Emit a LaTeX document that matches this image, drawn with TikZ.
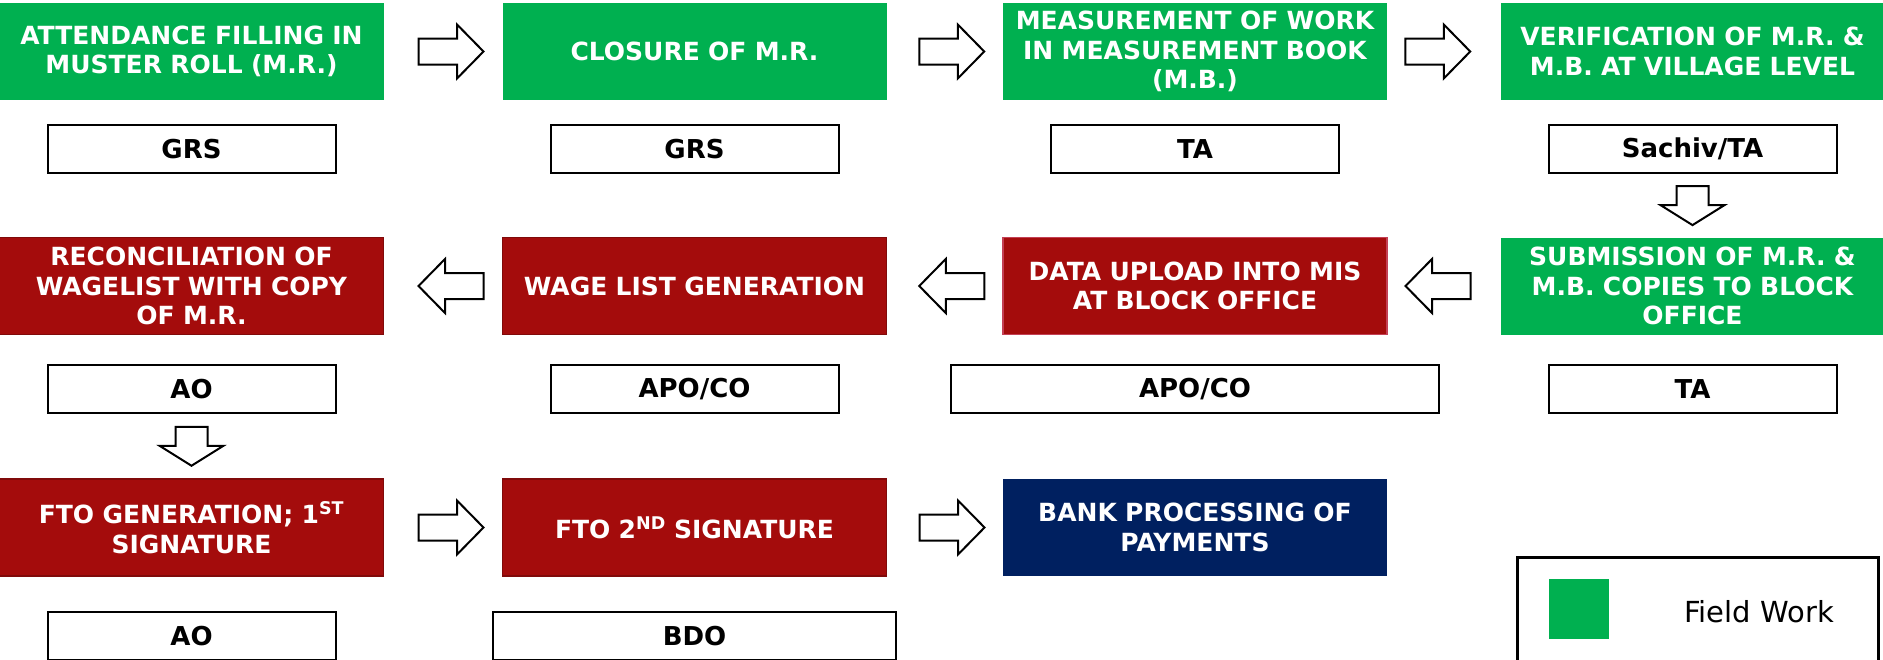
\documentclass[tikz,border=0pt]{standalone}
\usepackage{fontspec}
\setmainfont{DejaVu Sans}
\usetikzlibrary{positioning,calc}

\definecolor{fieldgreen}{RGB}{0,176,80}
\definecolor{officered}{RGB}{164,12,12}
\definecolor{officeedge}{RGB}{128,10,10}
\definecolor{uploadedge}{RGB}{196,64,84}
\definecolor{bankblue}{RGB}{0,32,96}

\tikzset{
  stage/.style={rectangle, minimum width=384pt, minimum height=97pt,
    text width=372pt, align=center, text=white, inner sep=0pt,
    font=\fontsize{25}{29.5}\selectfont\bfseries},
  fieldstage/.style={stage, fill=fieldgreen},
  officestage/.style={stage, fill=officered, draw=officeedge, line width=1.5pt},
  bankstage/.style={stage, fill=bankblue},
  whobox/.style={rectangle, draw, line width=2pt, minimum width=288pt,
    minimum height=48pt, inner sep=0pt,
    font=\fontsize{26}{30}\selectfont\bfseries},
  arrowline/.style={draw=black, fill=white, line width=2pt, line join=miter},
  pics/sidearrow/.style={code={
    \path[arrowline] (-32.5,-13) -- (6,-13) -- (6,-27) -- (32.5,0)
      -- (6,27) -- (6,13) -- (-32.5,13) -- cycle;}},
  pics/downarrow/.style={code={
    \path[arrowline] (-16,-19.5) -- (16,-19.5) -- (16,-0.5) -- (32,-0.5)
      -- (0,19.5) -- (-32,-0.5) -- (-16,-0.5) -- cycle;}},
}

\begin{document}
\begin{tikzpicture}[x=1pt,y=-1pt]
  \useasboundingbox (0,0) rectangle (1883,659);

  % first row
  \node[fieldstage] (attend) at (191.5,51.5) {ATTENDANCE FILLING IN\\MUSTER ROLL (M.R.)};
  \node[fieldstage] (closure) at (694.5,51.5) {CLOSURE OF M.R.};
  \node[fieldstage] (measure) at (1195,51.5) {MEASUREMENT OF WORK\\IN MEASUREMENT BOOK\\(M.B.)};
  \node[fieldstage] (verify) at (1692.5,51.5) {VERIFICATION OF M.R. \&\\M.B. AT VILLAGE LEVEL};

  \node[whobox, below=24pt of attend] (grsA) {GRS};
  \node[whobox, below=24pt of closure] (grsB) {GRS};
  \node[whobox, below=24pt of measure] (taA) {TA};
  \node[whobox, below=24pt of verify] (sachiv) {Sachiv/TA};

  \pic[xshift=8pt] at ($(attend.east)!.5!(closure.west)$) {sidearrow};
  \pic[xshift=7pt] at ($(closure.east)!.5!(measure.west)$) {sidearrow};
  \pic[xshift=-6pt] at ($(measure.east)!.5!(verify.west)$) {sidearrow};
  \pic at ($(sachiv.south)!.5!(1692.5,237)$) {downarrow};

  % second row
  \node[fieldstage] (submit) at (1692.5,286) {SUBMISSION OF M.R. \&\\M.B. COPIES TO BLOCK\\OFFICE};
  \node[officestage, draw=uploadedge] (upload) at (1195,286) {DATA UPLOAD INTO MIS\\AT BLOCK OFFICE};
  \node[officestage] (wagelist) at (694.5,286) {WAGE LIST GENERATION};
  \node[officestage] (reconcile) at (191.5,286) {RECONCILIATION OF\\WAGELIST WITH COPY\\OF M.R.};

  \node[whobox, below=29pt of submit] (taB) {TA};
  \node[whobox, below=29pt of upload, minimum width=488pt] (apoA) {APO/CO};
  \node[whobox, below=29pt of wagelist] (apoB) {APO/CO};
  \node[whobox, below=29pt of reconcile] (aoA) {AO};

  \pic[xshift=-6pt, rotate=180] at ($(upload.east)!.5!(submit.west)$) {sidearrow};
  \pic[xshift=7pt, rotate=180] at ($(wagelist.east)!.5!(upload.west)$) {sidearrow};
  \pic[xshift=8pt, rotate=180] at ($(reconcile.east)!.5!(wagelist.west)$) {sidearrow};

  % third row
  \node[officestage] (ftoA) at (191.5,527.5) {FTO GENERATION; 1\textsuperscript{ST}\\SIGNATURE};
  \node[officestage] (ftoB) at (694.5,527.5) {FTO 2\textsuperscript{ND} SIGNATURE};
  \node[bankstage] (bank) at (1195,527.5) {BANK PROCESSING OF\\PAYMENTS};

  \node[whobox, below=34pt of ftoA] (aoB) {AO};
  \node[whobox, below=34pt of ftoB, minimum width=403pt] (bdo) {BDO};

  \pic at ($(aoA.south)!.5!(ftoA.north)$) {downarrow};
  \pic[xshift=8pt] at ($(ftoA.east)!.5!(ftoB.west)$) {sidearrow};
  \pic[xshift=7pt] at ($(ftoB.east)!.5!(bank.west)$) {sidearrow};

  % legend
  \draw[line width=3pt] (1517,680) |- (1878,557) -- (1878,680);
  \node[fill=fieldgreen, minimum size=60pt, inner sep=0pt] (fieldkey) at (1578.5,609) {};
  \node[anchor=west, inner sep=0pt, font=\fontsize{29}{34}\selectfont] (fieldtext) at (1684,612) {Field Work};
\end{tikzpicture}
\end{document}
